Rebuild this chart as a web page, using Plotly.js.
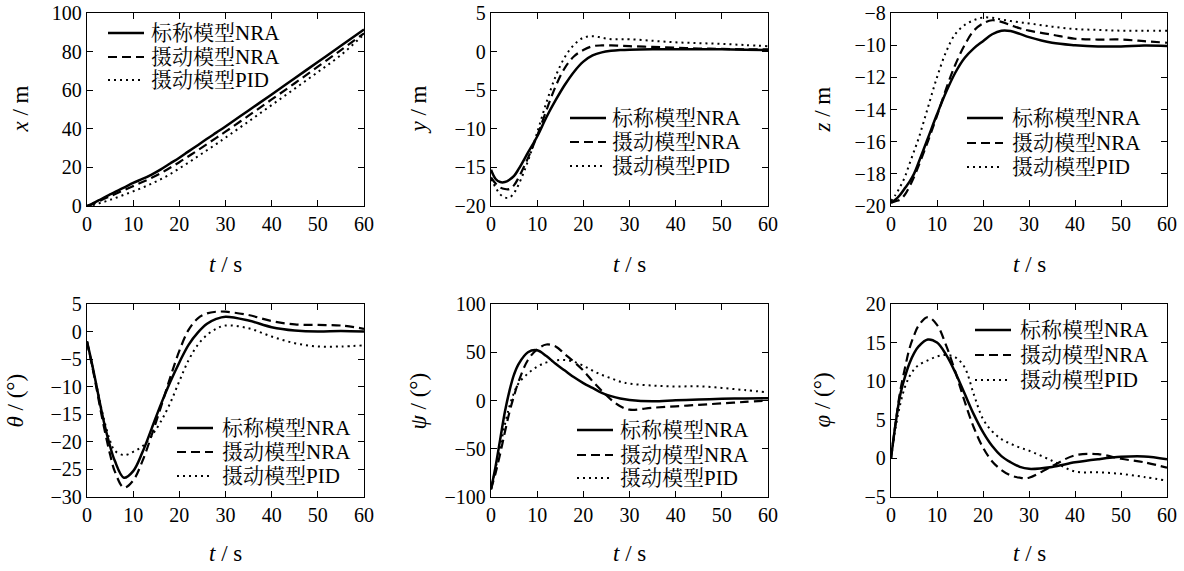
<!DOCTYPE html>
<html><head><meta charset="utf-8">
<script src="https://cdn.plot.ly/plotly-3.0.1.min.js"></script>
<style>
svg text { font-family: "Liberation Serif", "Noto Serif CJK SC", serif !important; }
</style>
</head><body style="margin:0;background:#fff">
<div id="chart" style="position:absolute;left:0;top:0"></div>
<script>
// ---- data ----
var t = [0,1,2,3,4,5,6,8,10,12,14,16,18,20,22,24,26,28,30,35,40,45,50,55,60];
var seriesNames = ['标称模型NRA','摄动模型NRA','摄动模型PID'];

var xNom  = [0,1,2.3,3.5,4.8,6,7.2,9.5,12,14,16.3,19,22,25,28.3,31.5,34.8,38,41.2,49.5,57.8,66.2,74.6,83,91.5];
var xPert = [0,0.8,1.8,2.9,4,5,6.1,8.2,10.3,12.4,14.6,17,19.8,22.7,25.8,28.9,32.1,35.3,38.5,46.8,55.2,63.6,72.2,80.8,89.5];
var xPid  = [0,0.4,1,1.7,2.4,3.2,4,5.8,7.6,9.5,11.6,13.9,16.5,19.5,22.5,25.7,28.9,32.1,35.4,43.8,52.3,60.8,69.4,78.2,89];

var yNom  = [-15.3,-16.5,-16.9,-16.9,-16.6,-16.1,-15.2,-13.1,-11.0,-8.5,-6.3,-4.3,-2.6,-1.3,-0.5,-0.1,0.1,0.2,0.25,0.3,0.3,0.3,0.3,0.25,0.2];
var yPert = [-16.3,-17.1,-17.6,-17.8,-17.8,-17.3,-16.3,-13.8,-10.9,-7.6,-4.5,-2.1,-0.6,0.2,0.7,0.8,0.8,0.75,0.7,0.6,0.5,0.4,0.35,0.3,0.3];
var yPid  = [-16.5,-17.6,-18.5,-18.9,-18.9,-18.3,-17.2,-14.2,-10.5,-6.6,-3.2,-0.7,0.9,1.8,2.0,1.8,1.6,1.6,1.6,1.4,1.2,1.1,1.0,0.85,0.7];

var zNom  = [-19.8,-19.6,-19.3,-18.9,-18.5,-18.0,-17.3,-15.8,-14.3,-12.9,-11.7,-10.8,-10.2,-9.75,-9.32,-9.1,-9.12,-9.3,-9.5,-9.85,-10.0,-10.08,-10.08,-10.02,-10.05];
var zPert = [-19.8,-19.7,-19.6,-19.3,-18.8,-18.2,-17.5,-16.0,-14.4,-12.7,-11.2,-10.0,-9.1,-8.65,-8.45,-8.55,-8.75,-8.95,-9.1,-9.35,-9.6,-9.65,-9.65,-9.75,-9.85];
var zPid  = [-19.7,-19.3,-18.8,-18.2,-17.4,-16.6,-15.8,-13.9,-12.0,-10.4,-9.3,-8.75,-8.45,-8.28,-8.3,-8.4,-8.5,-8.58,-8.65,-8.85,-9.0,-9.05,-9.1,-9.1,-9.1];

var thNom  = [-1.8,-5.5,-9.6,-13.8,-17.6,-20.8,-23.4,-26.5,-25.3,-21.9,-17.6,-13.2,-9.2,-5.6,-2.4,-0.2,1.4,2.3,2.7,2.0,0.8,0.2,0.0,0.1,0.0];
var thPert = [-1.8,-5.8,-10.0,-14.5,-18.6,-22.3,-25.3,-28.3,-27.0,-23.5,-18.8,-13.7,-8.4,-3.5,0.3,2.4,3.3,3.6,3.6,3.0,1.9,1.3,1.2,1.1,0.5];
var thPid  = [-1.8,-5.6,-9.5,-13.5,-17.0,-19.8,-21.6,-22.4,-21.8,-20.8,-18.9,-16.3,-13.0,-9.0,-5.2,-2.4,-0.6,0.5,1.1,0.6,-0.9,-2.1,-2.7,-2.7,-2.5];

var psNom  = [-92,-68,-40,-12,10,27,38,50,52,46,38,31,24,18,13,8,4.5,2,0.5,-0.8,0.2,1.0,1.7,2.2,2.4];
var psPert = [-92,-75,-55,-33,-12,5,20,42,53,58,56,48,40,31,20,10,1,-6,-9.5,-7.5,-6,-4.5,-3,-1.5,0];
var psPid  = [-92,-70,-48,-25,-6,8,18,28,35,39.5,41.5,42,40,36,31,26.5,23,19.5,17.5,15.5,14.5,14.8,13,10.8,8.5];

var phNom  = [0,4.5,8.2,10.5,12.3,13.6,14.5,15.4,15.0,13.4,11.1,8.4,5.7,3.4,1.6,0.3,-0.5,-1.1,-1.35,-1.1,-0.5,-0.1,0.2,0.25,-0.1];
var phPert = [0,4.6,8.7,11.6,14.2,15.9,17.2,18.3,17.3,14.6,11.2,7.4,4.0,1.4,-0.4,-1.5,-2.2,-2.5,-2.5,-1.0,0.4,0.55,-0.05,-0.5,-1.2];
var phPid  = [0,4,7,9.2,10.6,11.5,12.1,12.7,13.2,13.4,13.1,11.8,8.3,5.1,3.5,2.5,1.9,1.4,1.0,-0.3,-1.7,-1.8,-2.0,-2.4,-2.9];

var yTitles = ['<i>x</i> / m','<i>y</i> / m','<i>z</i> / m','<i>θ</i> / (°)','<i>ψ</i> / (°)','<i>φ</i> / (°)'];
var xTitle = '<i>t</i> / s';
var yRanges = [[0,100],[-20,5],[-20,-8],[-30,5],[-100,100],[-5,20]];
var yDticks = [20,5,2,5,50,5];
var xTicks = [0,10,20,30,40,50,60];

(function () {
  var panelData = [
    [xNom, xPert, xPid],
    [yNom, yPert, yPid],
    [zNom, zPert, zPid],
    [thNom, thPert, thPid],
    [psNom, psPert, psPid],
    [phNom, phPert, phPid]
  ];
  var W = 1184, H = 571;
  var cols = [[87,364],[491,768],[891,1167]];
  var rows = [[13,206],[304,497]];
  var yTitleX = [20,418,822,15,418,822];
  var xTitleY = [265,553];
  var legendPos = [
    {lx:108, tx:149, ys:[33,57,80]},
    {lx:570, tx:610, ys:[118,142,166]},
    {lx:967, tx:1010, ys:[118,143,167]},
    {lx:177, tx:220, ys:[428,452,476]},
    {lx:577, tx:618, ys:[430,455,478]},
    {lx:975, tx:1018, ys:[330,355,380]}
  ];
  var styles = [
    {color:'#000', width:2.5, dash:'solid'},
    {color:'#000', width:2.2, dash:'9px,5px'},
    {color:'#000', width:2.0, dash:'2px,4px'}
  ];
  function fx(v) { return v / W; }
  function fy(v) { return 1 - v / H; }
  var SERIF = 'Liberation Serif';
  var LEG = 'Liberation Serif, Noto Serif CJK SC';

  var traces = [];
  var layout = {
    width: W, height: H,
    margin: {l:0, r:0, t:0, b:0},
    paper_bgcolor: '#fff', plot_bgcolor: '#fff',
    showlegend: false,
    font: {family: SERIF, color: '#000', size: 20},
    annotations: [], shapes: []
  };
  for (var p = 0; p < 6; p++) {
    var r = Math.floor(p / 3), c = p % 3;
    var sfx = p === 0 ? '' : String(p + 1);
    var xa = 'x' + sfx, ya = 'y' + sfx;
    for (var k = 0; k < 3; k++) {
      traces.push({
        x: t, y: panelData[p][k], xaxis: xa, yaxis: ya, type: 'scatter', mode: 'lines',
        name: seriesNames[k],
        line: {color: styles[k].color, width: styles[k].width, dash: styles[k].dash, shape: 'spline', smoothing: 1}
      });
    }
    var axCommon = {
      showline: true, linecolor: '#000', linewidth: 1.3, mirror: 'ticks',
      ticks: 'inside', ticklen: 6, tickwidth: 1.2, tickcolor: '#000',
      showgrid: false, zeroline: false,
      tickfont: {family: SERIF, size: 20, color: '#000'}
    };
    layout['xaxis' + sfx] = Object.assign({}, axCommon, {
      domain: [fx(cols[c][0]), fx(cols[c][1])], anchor: ya,
      range: [0, 60], tickvals: xTicks, ticktext: xTicks.map(String)
    });
    layout['yaxis' + sfx] = Object.assign({}, axCommon, {
      domain: [fy(rows[r][1]), fy(rows[r][0])], anchor: xa,
      range: yRanges[p], dtick: yDticks[p], tick0: 0
    });
    layout.annotations.push({
      xref: 'paper', yref: 'paper', x: fx(yTitleX[p]), y: fy((rows[r][0] + rows[r][1]) / 2),
      text: yTitles[p], textangle: -90, showarrow: false, xanchor: 'center', yanchor: 'middle',
      font: {family: SERIF, size: 23, color: '#000'}
    });
    layout.annotations.push({
      xref: 'paper', yref: 'paper', x: fx((cols[c][0] + cols[c][1]) / 2), y: fy(xTitleY[r]),
      text: xTitle, showarrow: false, xanchor: 'center', yanchor: 'middle',
      font: {family: SERIF, size: 23, color: '#000'}
    });
    var lp = legendPos[p];
    for (var j = 0; j < 3; j++) {
      layout.shapes.push({
        type: 'line', xref: 'paper', yref: 'paper',
        x0: fx(lp.lx), x1: fx(lp.lx + 36), y0: fy(lp.ys[j]), y1: fy(lp.ys[j]),
        line: {color: '#000', width: styles[j].width, dash: styles[j].dash}
      });
      layout.annotations.push({
        xref: 'paper', yref: 'paper', x: fx(lp.tx), y: fy(lp.ys[j]),
        text: seriesNames[j], showarrow: false, xanchor: 'left', yanchor: 'middle',
        font: {family: LEG, size: 21, color: '#000'}
      });
    }
  }
  Plotly.newPlot('chart', traces, layout, {displayModeBar: false});
})();
</script>
</body></html>
